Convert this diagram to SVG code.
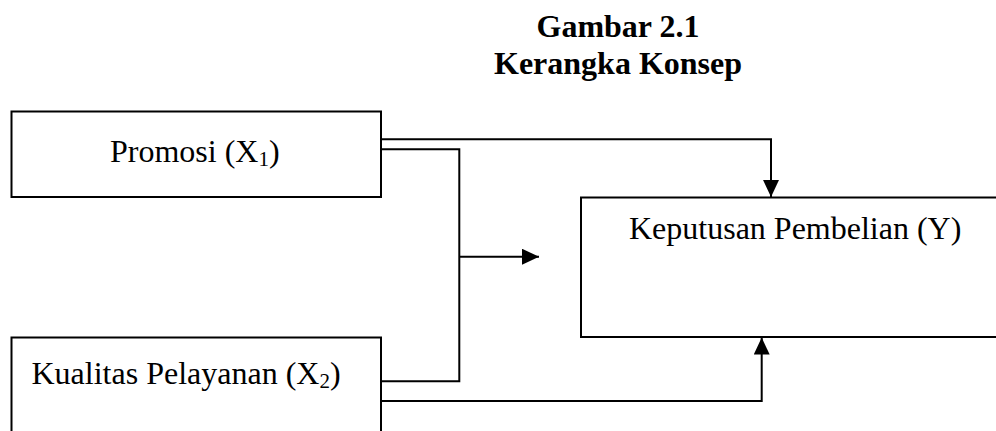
<svg xmlns="http://www.w3.org/2000/svg" width="996" height="431" viewBox="0 0 996 431">
  <style>
    .box { fill: #ffffff; stroke: #000000; stroke-width: 2; }
    .wire { fill: none; stroke: #000000; stroke-width: 2; }
    .label { font-family: "Liberation Serif", "Times New Roman", serif; font-size: 32px; fill: #000000; }
    .title { font-family: "Liberation Serif", "Times New Roman", serif; font-size: 32px; font-weight: bold; fill: #000000; text-anchor: middle; }
    .sub { font-size: 21px; }
  </style>
  <defs>
    <marker id="arrow" markerUnits="userSpaceOnUse" markerWidth="17" markerHeight="16" viewBox="0 0 16 15" refX="16" refY="7.5" orient="auto">
      <path d="M0,0 L16,7.5 L0,15 Z" fill="#000000"/>
    </marker>
  </defs>
  <rect width="996" height="431" fill="#ffffff"/>

  <!-- heading -->
  <g id="title">
    <text class="title" x="618" y="37">Gambar 2.1</text>
    <text class="title" x="618" y="74">Kerangka Konsep</text>
  </g>

  <!-- variable boxes -->
  <g id="promosi">
    <rect class="box" x="11.5" y="111.5" width="369.5" height="85.5"/>
    <text class="label" x="110" y="161.5">Promosi (X<tspan class="sub" dy="4">1</tspan><tspan dy="-4">)</tspan></text>
  </g>

  <g id="kualitas-pelayanan">
    <rect class="box" x="11.5" y="337.5" width="369.5" height="100"/>
    <text class="label" x="31.5" y="383.5">Kualitas Pelayanan (X<tspan class="sub" dy="4">2</tspan><tspan dy="-4">)</tspan></text>
  </g>

  <g id="keputusan-pembelian">
    <rect class="box" x="581" y="197.5" width="425" height="139.5"/>
    <text class="label" x="629" y="238.5">Keputusan Pembelian (Y)</text>
  </g>

  <!-- connectors -->
  <g id="connectors">
    <path class="wire" d="M381,139.3 H771 V197" marker-end="url(#arrow)"/>
    <path class="wire" d="M381,149.3 H459.3 V381.3 H381"/>
    <path class="wire" d="M459.3,256.7 H539" marker-end="url(#arrow)"/>
    <path class="wire" d="M381,401 H761.7 V337.5" marker-end="url(#arrow)"/>
  </g>
</svg>
